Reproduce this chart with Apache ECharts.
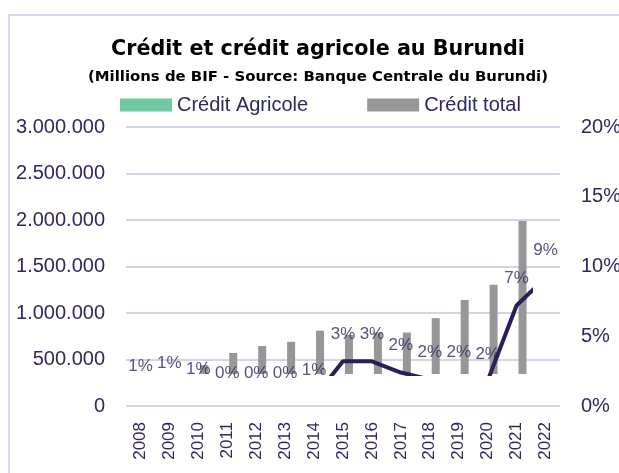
<!DOCTYPE html>
<html>
<head>
<meta charset="utf-8">
<script src="https://cdn.jsdelivr.net/npm/echarts@6/dist/echarts.min.js"></script>
<style>
  html, body { margin: 0; padding: 0; background: #fff; }
  #chart { width: 619px; height: 473px; }
</style>
</head>
<body>
<div id="chart"></div>
<script>
// data
const years = ['2008', '2009', '2010', '2011', '2012', '2013', '2014', '2015',
  '2016', '2017', '2018', '2019', '2020', '2021', '2022'];
const creditTotal = [270000, 320000, 440000, 570000, 645000, 690000, 810000, 765000,
  790000, 790000, 945000, 1140000, 1305000, 1990000, 2300000];
const creditAgricole = [2400, 3500, 3100, 2300, 2600, 2800, 4900, 24500,
  25300, 19000, 18000, 21700, 23500, 143000, 212000];
const partAgricole = [0.9, 1.1, 0.7, 0.4, 0.4, 0.4, 0.6, 3.2, 3.2, 2.4, 1.9, 1.9, 1.8, 7.2, 9.2];
const leftTicks = { min: 0, max: 3000000, interval: 500000 };
const rightTicks = { min: 0, max: 20, interval: 5 };

const navy = '#2b2a5e';
const grid = '#d6d2e8';

// the original plot only shows what lies above ~y=374 and left of ~x=531
const plotTop = 127, plotBottom = 406, clipBottom = 374;
const cutShare = (plotBottom - clipBottom) / (plotBottom - plotTop);

const chart = echarts.init(document.getElementById('chart'), null, { renderer: 'canvas' });

const fmtThousands = v => String(v).replace(/\B(?=(\d{3})+(?!\d))/g, '.');

const option = {
  animation: false,
  backgroundColor: '#fff',
  graphic: [{
    type: 'rect',
    shape: { x: 9, y: 15, width: 700, height: 600 },
    style: { fill: 'none', stroke: '#cfcae4', lineWidth: 1.5 },
    silent: true
  }],
  title: [
    {
      text: 'Crédit et crédit agricole au Burundi',
      left: 111, top: 39, padding: 0,
      textStyle: { fontFamily: 'DejaVu Sans', fontWeight: 'bold', fontSize: 20.7, color: '#000' }
    },
    {
      text: '(Millions de BIF - Source: Banque Centrale du Burundi)',
      left: 88, top: 70, padding: 0,
      textStyle: { fontFamily: 'DejaVu Sans', fontWeight: 'bold', fontSize: 14.9, color: '#000' }
    }
  ],
  legend: {
    data: ['Crédit Agricole', 'Crédit total'],
    left: 120, top: 95, padding: 0,
    icon: 'rect',
    itemWidth: 52, itemHeight: 13,
    itemGap: 59,
    textStyle: { fontFamily: 'Liberation Sans', fontSize: 20, color: navy }
  },
  grid: [
    { left: 126, right: 59, top: plotTop, bottom: 473 - plotBottom, outerBoundsMode: 'none' },
    { left: 126, right: 88, top: plotTop, bottom: 473 - clipBottom, outerBoundsMode: 'none' }
  ],
  xAxis: [
    {
      type: 'category', gridIndex: 0, data: years,
      axisLine: { show: false }, axisTick: { show: false },
      axisLabel: { rotate: 90, margin: 16, fontFamily: 'Liberation Sans', fontSize: 17, color: navy }
    },
    {
      type: 'category', gridIndex: 1, data: years, min: 0, max: 13, show: false
    }
  ],
  yAxis: [
    {
      type: 'value', gridIndex: 0, position: 'left',
      min: leftTicks.min, max: leftTicks.max, interval: leftTicks.interval,
      axisLine: { show: false }, axisTick: { show: false },
      splitLine: { lineStyle: { color: grid, width: 2 } },
      axisLabel: { margin: 21, fontFamily: 'Liberation Sans', fontSize: 20, color: navy, formatter: fmtThousands }
    },
    {
      type: 'value', gridIndex: 0, position: 'right',
      min: rightTicks.min, max: rightTicks.max, interval: rightTicks.interval,
      axisLine: { show: false }, axisTick: { show: false }, splitLine: { show: false },
      axisLabel: { margin: 21, fontFamily: 'Liberation Sans', fontSize: 20, color: navy, formatter: '{value}%' }
    },
    {
      type: 'value', gridIndex: 1, show: false,
      min: leftTicks.max * cutShare, max: leftTicks.max
    },
    {
      type: 'value', gridIndex: 1, show: false,
      min: rightTicks.max * cutShare, max: rightTicks.max
    }
  ],
  series: [
    {
      name: 'Crédit Agricole', type: 'bar', xAxisIndex: 1, yAxisIndex: 2,
      data: creditAgricole, barWidth: 8, barGap: '50%', clip: true,
      itemStyle: { color: '#6fc8a1' }
    },
    {
      name: 'Crédit total', type: 'bar', xAxisIndex: 1, yAxisIndex: 2,
      data: creditTotal, barWidth: 8, barGap: '50%', clip: true,
      itemStyle: { color: '#979797' }
    },
    {
      name: 'Part agricole', type: 'line', xAxisIndex: 1, yAxisIndex: 3,
      data: partAgricole, symbol: 'none', clip: true, z: 3,
      lineStyle: { color: '#23205c', width: 4 }
    },
    {
      name: 'Part agricole (%)', type: 'scatter', xAxisIndex: 0, yAxisIndex: 1,
      data: partAgricole, symbolSize: 1, silent: true, z: 4,
      itemStyle: { color: 'rgba(0,0,0,0)' },
      label: {
        show: true, position: 'top', distance: 18,
        fontFamily: 'Liberation Sans', fontSize: 17, color: navy,
        formatter: p => Math.round(p.value) + '%'
      }
    }
  ]
};

chart.setOption(option);
</script>
</body>
</html>
